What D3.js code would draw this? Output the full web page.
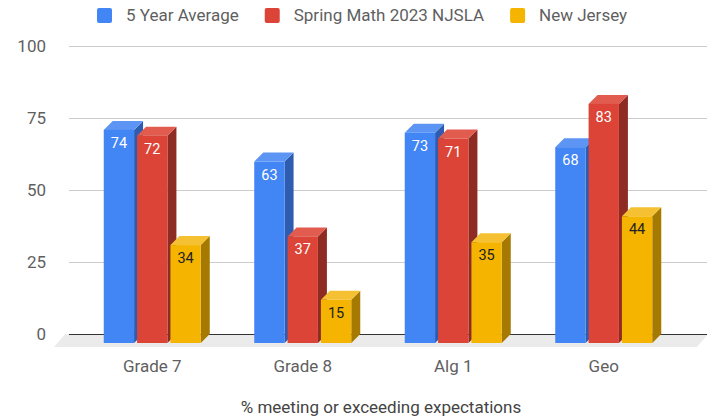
<!DOCTYPE html>
<html>
<head>
<meta charset="utf-8">
<script src="https://cdn.jsdelivr.net/npm/d3@7"></script>
<style>
  body { margin: 0; background: #fff; }
  svg { display: block; font-family: Roboto, Arial, sans-serif; }
</style>
</head>
<body>
<svg width="714" height="418"></svg>
<script>
const categories = ['Grade 7', 'Grade 8', 'Alg 1', 'Geo'];
const seriesNames = ['5 Year Average', 'Spring Math 2023 NJSLA', 'New Jersey'];
const fiveYearAverage = [74, 63, 73, 68];
const springMath2023 = [72, 37, 71, 83];
const newJersey = [34, 15, 35, 44];
const yTicks = [0, 25, 50, 75, 100];
const axisTitle = '% meeting or exceeding expectations';

const seriesValues = [fiveYearAverage, springMath2023, newJersey];
const frontColor = ['#4285f4', '#db4437', '#f4b400'];
const sideColor = ['#2d5cb0', '#8e2b23', '#a67a00'];
const topColor = ['#5c95f3', '#e15b4f', '#f5c133'];
const labelColor = ['#fff', '#fff', '#222'];

let width = 714;
let height = 418;
let gridLeft = 69, gridRight = 707;
let dx = 9, dy = 9; // 3d depth of the bars

let svg = d3.select('svg');

let yScale = d3.scaleLinear().domain([0, 100]).range([334, 46]);
let xScale = d3.scaleBand().domain(categories).range([77, 679]);
let inner = d3.scaleBand().domain(seriesNames).range([-48.5, 48.5]).paddingInner(0.09);

// gridlines + y labels
svg.append('g')
  .selectAll('line')
  .data(yTicks.filter(t => t > 0))
  .enter()
  .append('line')
  .attr('x1', gridLeft).attr('x2', gridRight)
  .attr('y1', d => yScale(d) + 0.5).attr('y2', d => yScale(d) + 0.5)
  .attr('stroke', '#cccccc');

svg.append('g')
  .selectAll('text')
  .data(yTicks)
  .enter()
  .append('text')
  .attr('x', 46)
  .attr('y', d => yScale(d) + 6)
  .attr('text-anchor', 'end')
  .attr('font-size', 17)
  .attr('fill', '#5f5f5f')
  .text(d => d);

// floor
let y0 = yScale(0);
svg.append('path')
  .attr('d', `M${gridLeft - 4},${y0} L${gridRight + 1},${y0} L${gridRight - 10},${y0 + 13} L${gridLeft - 15},${y0 + 13} Z`)
  .attr('fill', '#ebebeb');

svg.append('line')
  .attr('x1', gridLeft).attr('x2', gridRight)
  .attr('y1', y0 + 0.5).attr('y2', y0 + 0.5)
  .attr('stroke', '#333').attr('stroke-width', 1.2);

// bars
let bars = [];
categories.forEach((c, ci) => {
  seriesNames.forEach((s, si) => {
    bars.push({ cat: c, series: s, si: si, value: seriesValues[si][ci] });
  });
});

let barG = svg.append('g');
bars.forEach(b => {
  let x = xScale(b.cat) + xScale.bandwidth() / 2 + inner(b.series);
  let w = inner.bandwidth();
  let yf = yScale(b.value) + dy;
  let yb = y0 + dy;
  let g = barG.append('g');
  g.append('path')
    .attr('d', `M${x + w},${yf} L${x + w + dx},${yf - dy} L${x + w + dx},${yb - dy} L${x + w},${yb} Z`)
    .attr('fill', sideColor[b.si]);
  g.append('path')
    .attr('d', `M${x},${yf} L${x + dx},${yf - dy} L${x + w + dx},${yf - dy} L${x + w},${yf} Z`)
    .attr('fill', topColor[b.si]);
  g.append('rect')
    .attr('x', x).attr('y', yf)
    .attr('width', w).attr('height', yb - yf)
    .attr('fill', frontColor[b.si]);
  g.append('text')
    .attr('x', x + w / 2)
    .attr('y', yf + 18)
    .attr('text-anchor', 'middle')
    .attr('font-size', 14.5)
    .attr('fill', labelColor[b.si])
    .text(b.value);
});

// x labels
svg.append('g')
  .selectAll('text')
  .data(categories)
  .enter()
  .append('text')
  .attr('x', d => xScale(d) + xScale.bandwidth() / 2)
  .attr('y', 372)
  .attr('text-anchor', 'middle')
  .attr('font-size', 17)
  .attr('fill', '#5f5f5f')
  .text(d => d);

svg.append('text')
  .attr('x', 381)
  .attr('y', 413)
  .attr('text-anchor', 'middle')
  .attr('font-size', 17)
  .attr('fill', '#444')
  .text(axisTitle);

// legend
let legend = svg.append('g');
let lx = 97;
seriesNames.forEach((s, i) => {
  legend.append('rect')
    .attr('x', lx).attr('y', 8)
    .attr('width', 15).attr('height', 15)
    .attr('rx', 2)
    .attr('fill', frontColor[i]);
  let t = legend.append('text')
    .attr('x', lx + 29)
    .attr('y', 21)
    .attr('font-size', 17)
    .attr('fill', '#5f5f5f')
    .text(s);
  lx += 29 + t.node().getComputedTextLength() + 26;
});
</script>
</body>
</html>
